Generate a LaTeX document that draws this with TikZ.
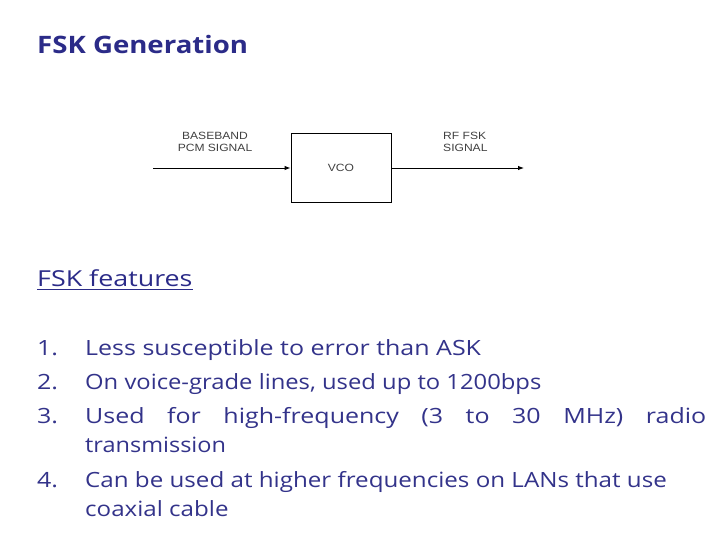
\documentclass[tikz,border=0pt]{standalone}
\usepackage{graphicx}
\usepackage{fontspec}
\setmainfont[FakeStretch=1.19]{Open Sans}
\newfontfamily\titlefont[FakeStretch=1.15]{Open Sans}
\newfontfamily\featfont[FakeStretch=1.22]{Open Sans}
\newfontfamily\arialfont[FakeStretch=1.15]{Liberation Sans}
\usetikzlibrary{arrows.meta}
\definecolor{titleblue}{HTML}{2B2B88}
\definecolor{bodyblue}{HTML}{33338A}
\tikzset{
  txt/.style={anchor=base west, inner sep=0pt, text=bodyblue, font=\fontsize{21}{24}\selectfont},
  ttl/.style={anchor=base west, inner sep=0pt, text=titleblue, font=\titlefont\fontsize{24}{28}\selectfont\bfseries},
  sig/.style={inner sep=0pt, font=\arialfont\fontsize{10.5}{12}\selectfont, text=black!75},
  conn/.style={line width=0.9pt, -{Latex[length=6pt,width=4.5pt]}}
}
\begin{document}
\begin{tikzpicture}[x=1pt,y=-1pt]
\useasboundingbox (0,0) rectangle (720,540);
\node[ttl] (title) at (37,54) {FSK Generation};
% diagram
\node[draw, line width=0.9pt, minimum width=100pt, minimum height=69pt, inner sep=0pt, sig] (vco) at (341,167.5) {VCO};
\coordinate (in) at (153,168);
\coordinate (out) at (524,168);
\draw[conn] (in) -- (vco.west |- in);
\draw[conn] (vco.east |- out) -- (out);
\node[sig, align=center] (bb) at (215,142) {BASEBAND\\[0pt]PCM SIGNAL};
\node[sig, align=left, anchor=west] (rf) at (443,142) {RF FSK\\[0pt]SIGNAL};
% features
\node[ttl, font=\featfont\fontsize{22}{26}\selectfont] (feat) at (37,286) {FSK features};
\draw[titleblue, line width=1.2pt] (feat.base west) ++(0,3.5) -- ([yshift=-3.5pt]feat.base east);
\node[txt] (n1) at (37,355) {1.};
\node[txt] (n2) at (37,389) {2.};
\node[txt] (n3) at (37,423) {3.};
\node[txt] (n4) at (37,487) {4.};
\node[txt] (l1) at (85,355) {Less susceptible to error than ASK};
\node[txt] (l2) at (85,389) {\scalebox{0.952}[1]{On voice-grade lines, used up to 1200bps}};
\node[txt] (l3) at (85,423) {\makebox[621pt][s]{Used for high-frequency (3 to 30 MHz) radio}};
\node[txt] (l3b) at (85,452) {\scalebox{0.94}[1]{transmission}};
\node[txt] (l4) at (85,487) {\scalebox{0.967}[1]{Can be used at higher frequencies on LANs that use}};
\node[txt] (l4b) at (85,516) {\scalebox{0.966}[1]{coaxial cable}};
\end{tikzpicture}
\end{document}
